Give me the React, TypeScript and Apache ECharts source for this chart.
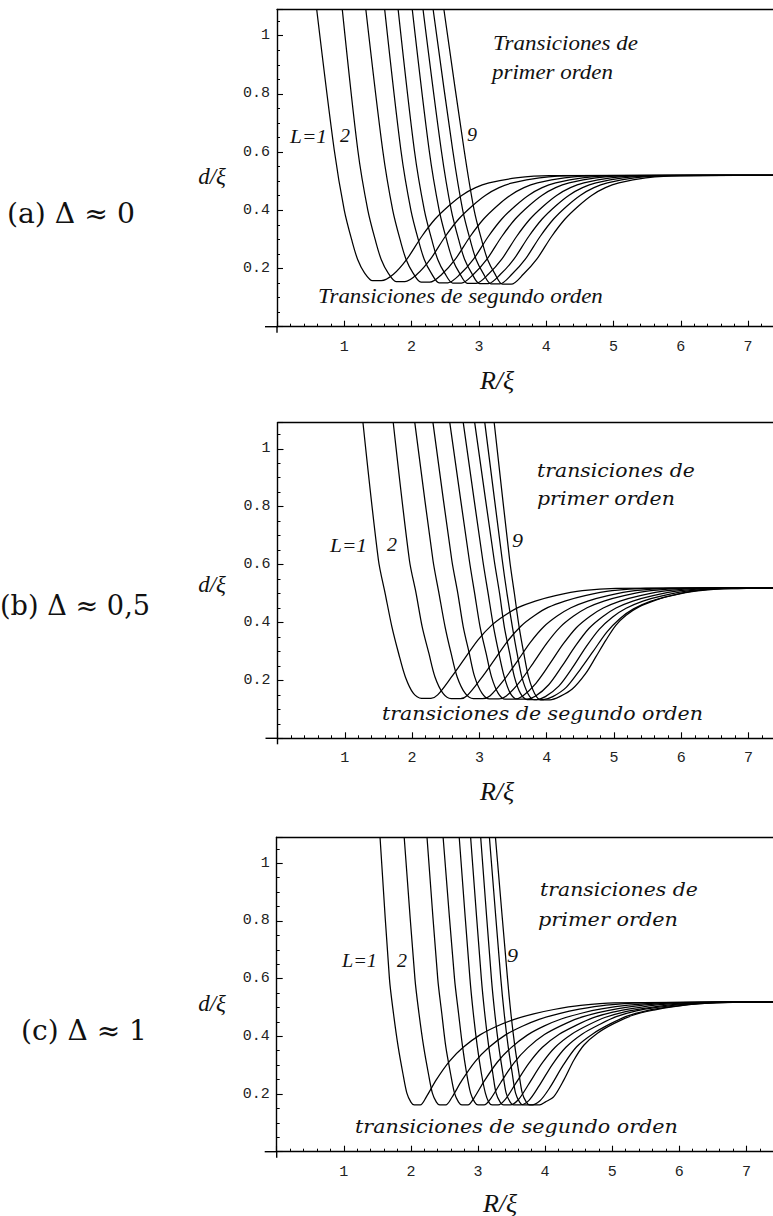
import React, { useEffect, useRef } from "react";
import * as echarts from "echarts";

// ---------- tick labels ----------
const xTickLabels = ["1", "2", "3", "4", "5", "6", "7"];
const yTickLabels = ["0.2", "0.4", "0.6", "0.8", "1"];

// ---------- panel (a)  Δ ≈ 0 : d/ξ versus R/ξ, L = 1..9 ----------
const a1 = [[0.59,1.09],[0.85,0.608],[1.0,0.4],[1.12,0.29],[1.2,0.23],[1.3,0.185],[1.42,0.158],[1.55,0.158],[1.73,0.18],[1.93,0.232],[2.15,0.31],[2.35,0.37],[2.55,0.415],[2.75,0.452],[2.95,0.478],[3.15,0.494],[3.55,0.511],[4.05,0.519],[8,0.52]];
const a2 = [[0.97,1.09],[1.2,0.608],[1.35,0.4],[1.47,0.29],[1.55,0.23],[1.65,0.185],[1.77,0.155],[1.9,0.155],[2.08,0.18],[2.28,0.232],[2.5,0.31],[2.7,0.37],[2.9,0.415],[3.1,0.452],[3.3,0.478],[3.5,0.494],[3.9,0.511],[4.4,0.519],[8,0.52]];
const a3 = [[1.32,1.09],[1.57,0.608],[1.72,0.4],[1.84,0.29],[1.92,0.23],[2.02,0.185],[2.14,0.153],[2.27,0.153],[2.45,0.18],[2.65,0.232],[2.87,0.31],[3.07,0.37],[3.27,0.415],[3.47,0.452],[3.67,0.478],[3.87,0.494],[4.27,0.511],[4.77,0.519],[8,0.52]];
const a4 = [[1.6,1.09],[1.84,0.608],[1.99,0.4],[2.11,0.29],[2.19,0.23],[2.29,0.185],[2.41,0.151],[2.54,0.151],[2.72,0.18],[2.92,0.232],[3.14,0.31],[3.34,0.37],[3.54,0.415],[3.74,0.452],[3.94,0.478],[4.14,0.494],[4.54,0.511],[5.04,0.519],[8,0.52]];
const a5 = [[1.8,1.09],[2.04,0.608],[2.19,0.4],[2.31,0.29],[2.39,0.23],[2.49,0.185],[2.61,0.15],[2.74,0.15],[2.92,0.18],[3.12,0.232],[3.34,0.31],[3.54,0.37],[3.74,0.415],[3.94,0.452],[4.14,0.478],[4.34,0.494],[4.74,0.511],[5.24,0.519],[8,0.52]];
const a6 = [[2.01,1.09],[2.26,0.608],[2.41,0.4],[2.53,0.29],[2.61,0.23],[2.71,0.185],[2.83,0.149],[2.96,0.149],[3.14,0.18],[3.34,0.232],[3.56,0.31],[3.76,0.37],[3.96,0.415],[4.16,0.452],[4.36,0.478],[4.56,0.494],[4.96,0.511],[5.46,0.519],[8,0.52]];
const a7 = [[2.17,1.09],[2.44,0.608],[2.59,0.4],[2.71,0.29],[2.79,0.23],[2.89,0.185],[3.01,0.148],[3.14,0.148],[3.32,0.18],[3.52,0.232],[3.74,0.31],[3.94,0.37],[4.14,0.415],[4.34,0.452],[4.54,0.478],[4.74,0.494],[5.14,0.511],[5.64,0.519],[8,0.52]];
const a8 = [[2.32,1.09],[2.61,0.608],[2.76,0.4],[2.88,0.29],[2.96,0.23],[3.06,0.185],[3.18,0.147],[3.31,0.147],[3.49,0.18],[3.69,0.232],[3.91,0.31],[4.11,0.37],[4.31,0.415],[4.51,0.452],[4.71,0.478],[4.91,0.494],[5.31,0.511],[5.81,0.519],[8,0.52]];
const a9 = [[2.48,1.09],[2.78,0.608],[2.93,0.4],[3.05,0.29],[3.13,0.23],[3.23,0.185],[3.35,0.146],[3.48,0.146],[3.66,0.18],[3.86,0.232],[4.08,0.31],[4.28,0.37],[4.48,0.415],[4.68,0.452],[4.88,0.478],[5.08,0.494],[5.48,0.511],[5.98,0.519],[8,0.52]];

// ---------- panel (b)  Δ ≈ 0,5 ----------
const b1 = [[1.27,1.09],[1.5,0.615],[1.6,0.5],[1.7,0.385],[1.8,0.293],[1.9,0.212],[2.02,0.155],[2.14,0.138],[2.28,0.138],[2.38,0.15],[2.58,0.21],[2.78,0.275],[2.98,0.34],[3.18,0.39],[3.38,0.425],[3.58,0.452],[3.83,0.474],[4.13,0.493],[4.53,0.51],[5.03,0.518],[8,0.52]];
const b2 = [[1.72,1.09],[1.96,0.615],[2.06,0.5],[2.15,0.385],[2.25,0.293],[2.34,0.212],[2.46,0.155],[2.58,0.137],[2.72,0.137],[2.82,0.148],[3.02,0.205],[3.22,0.27],[3.42,0.336],[3.62,0.388],[3.82,0.424],[4.02,0.452],[4.27,0.474],[4.57,0.493],[4.97,0.51],[5.47,0.518],[8,0.52]];
const b3 = [[2.04,1.09],[2.31,0.615],[2.4,0.5],[2.49,0.385],[2.58,0.293],[2.67,0.212],[2.79,0.155],[2.91,0.137],[3.05,0.137],[3.16,0.147],[3.36,0.2],[3.56,0.265],[3.76,0.332],[3.96,0.386],[4.16,0.423],[4.36,0.451],[4.61,0.474],[4.91,0.493],[5.31,0.51],[5.81,0.518],[8,0.52]];
const b4 = [[2.31,1.09],[2.59,0.615],[2.68,0.5],[2.76,0.385],[2.85,0.293],[2.93,0.212],[3.04,0.155],[3.15,0.136],[3.29,0.136],[3.4,0.146],[3.6,0.195],[3.8,0.26],[4.0,0.328],[4.2,0.384],[4.4,0.422],[4.6,0.451],[4.85,0.474],[5.15,0.493],[5.55,0.51],[6.05,0.518],[8,0.52]];
const b5 = [[2.56,1.09],[2.85,0.615],[2.93,0.5],[3.01,0.385],[3.1,0.293],[3.18,0.212],[3.28,0.155],[3.38,0.135],[3.52,0.135],[3.64,0.145],[3.84,0.19],[4.04,0.255],[4.24,0.324],[4.44,0.382],[4.64,0.421],[4.84,0.45],[5.09,0.474],[5.39,0.493],[5.79,0.51],[6.29,0.518],[8,0.52]];
const b6 = [[2.76,1.09],[3.05,0.615],[3.13,0.5],[3.21,0.385],[3.29,0.293],[3.37,0.212],[3.46,0.155],[3.56,0.135],[3.7,0.135],[3.83,0.145],[4.03,0.185],[4.23,0.25],[4.43,0.32],[4.63,0.38],[4.83,0.42],[5.03,0.45],[5.28,0.474],[5.58,0.493],[5.98,0.51],[6.48,0.518],[8,0.52]];
const b7 = [[2.93,1.09],[3.22,0.615],[3.3,0.5],[3.37,0.385],[3.45,0.293],[3.52,0.212],[3.61,0.155],[3.71,0.134],[3.85,0.134],[3.98,0.144],[4.18,0.18],[4.38,0.243],[4.58,0.314],[4.78,0.376],[4.98,0.419],[5.18,0.449],[5.43,0.474],[5.73,0.493],[6.13,0.51],[6.63,0.518],[8,0.52]];
const b8 = [[3.08,1.09],[3.34,0.615],[3.41,0.5],[3.49,0.385],[3.56,0.293],[3.63,0.212],[3.72,0.155],[3.81,0.134],[3.95,0.134],[4.09,0.144],[4.29,0.176],[4.49,0.235],[4.69,0.3],[4.89,0.366],[5.09,0.414],[5.29,0.447],[5.54,0.473],[5.84,0.492],[6.24,0.509],[6.74,0.517],[8,0.52]];
const b9 = [[3.22,1.09],[3.45,0.615],[3.52,0.5],[3.59,0.385],[3.66,0.293],[3.73,0.212],[3.82,0.155],[3.91,0.133],[4.05,0.133],[4.2,0.145],[4.38,0.17],[4.58,0.224],[4.73,0.281],[4.88,0.339],[5.03,0.391],[5.18,0.425],[5.37,0.454],[5.62,0.477],[5.87,0.494],[6.1,0.506],[6.5,0.516],[8,0.52]];

// ---------- panel (c)  Δ ≈ 1 ----------
const c1 = [[1.54,1.09],[1.68,0.6],[1.74,0.48],[1.81,0.364],[1.88,0.272],[1.94,0.203],[2.0,0.172],[2.05,0.162],[2.14,0.162],[2.23,0.19],[2.38,0.25],[2.58,0.315],[2.78,0.362],[3.03,0.405],[3.28,0.435],[3.53,0.458],[3.83,0.478],[4.13,0.493],[4.53,0.507],[5.03,0.516],[8,0.52]];
const c2 = [[1.9,1.09],[2.06,0.6],[2.12,0.48],[2.19,0.364],[2.26,0.272],[2.32,0.203],[2.38,0.172],[2.43,0.162],[2.52,0.162],[2.61,0.188],[2.76,0.247],[2.96,0.313],[3.16,0.361],[3.41,0.405],[3.66,0.435],[3.91,0.459],[4.21,0.479],[4.51,0.494],[4.91,0.508],[5.41,0.516],[8,0.52]];
const c3 = [[2.24,1.09],[2.4,0.6],[2.46,0.48],[2.52,0.364],[2.59,0.272],[2.65,0.203],[2.71,0.172],[2.76,0.162],[2.85,0.162],[2.94,0.186],[3.09,0.244],[3.29,0.311],[3.49,0.36],[3.74,0.405],[3.99,0.436],[4.24,0.46],[4.54,0.48],[4.84,0.495],[5.24,0.508],[5.74,0.516],[8,0.52]];
const c4 = [[2.48,1.09],[2.65,0.6],[2.71,0.48],[2.77,0.364],[2.83,0.272],[2.89,0.203],[2.95,0.172],[3.0,0.162],[3.09,0.162],[3.19,0.184],[3.34,0.24],[3.54,0.309],[3.74,0.36],[3.99,0.406],[4.24,0.437],[4.49,0.462],[4.79,0.482],[5.09,0.496],[5.49,0.509],[5.99,0.517],[8,0.52]];
const c5 = [[2.72,1.09],[2.88,0.6],[2.93,0.48],[2.99,0.364],[3.05,0.272],[3.11,0.203],[3.16,0.172],[3.21,0.162],[3.3,0.162],[3.41,0.182],[3.56,0.236],[3.76,0.307],[3.96,0.362],[4.21,0.407],[4.46,0.438],[4.71,0.464],[5.01,0.484],[5.31,0.497],[5.71,0.51],[6.21,0.517],[8,0.52]];
const c6 = [[2.89,1.09],[3.05,0.6],[3.1,0.48],[3.16,0.364],[3.22,0.272],[3.27,0.203],[3.33,0.172],[3.38,0.162],[3.48,0.162],[3.6,0.18],[3.75,0.232],[3.95,0.305],[4.15,0.362],[4.4,0.408],[4.65,0.44],[4.9,0.466],[5.2,0.486],[5.5,0.498],[5.9,0.51],[6.4,0.517],[8,0.52]];
const c7 = [[3.04,1.09],[3.2,0.6],[3.25,0.48],[3.31,0.364],[3.37,0.272],[3.42,0.203],[3.48,0.172],[3.53,0.162],[3.63,0.162],[3.76,0.178],[3.91,0.228],[4.11,0.303],[4.31,0.362],[4.56,0.409],[4.81,0.441],[5.06,0.468],[5.36,0.488],[5.66,0.5],[6.06,0.511],[6.56,0.518],[8,0.52]];
const c8 = [[3.17,1.09],[3.34,0.6],[3.39,0.48],[3.45,0.364],[3.51,0.272],[3.56,0.203],[3.62,0.172],[3.67,0.162],[3.78,0.162],[3.92,0.176],[4.07,0.222],[4.27,0.3],[4.47,0.364],[4.72,0.41],[4.97,0.443],[5.22,0.47],[5.52,0.489],[5.82,0.501],[6.22,0.512],[6.72,0.518],[8,0.52]];
const c9 = [[3.26,1.09],[3.44,0.6],[3.49,0.48],[3.55,0.364],[3.61,0.272],[3.66,0.203],[3.72,0.172],[3.77,0.162],[3.92,0.162],[4.0,0.172],[4.13,0.191],[4.28,0.249],[4.43,0.318],[4.58,0.37],[4.78,0.411],[5.03,0.445],[5.32,0.474],[5.62,0.491],[5.92,0.503],[6.3,0.513],[6.8,0.518],[8,0.52]];

const curvesA = [a1, a2, a3, a4, a5, a6, a7, a8, a9];
const curvesB = [b1, b2, b3, b4, b5, b6, b7, b8, b9];
const curvesC = [c1, c2, c3, c4, c5, c6, c7, c8, c9];
const curveNames = ["L=1", "L=2", "L=3", "L=4", "L=5", "L=6", "L=7", "L=8", "L=9"];

const X_MAX = 8;
const Y_MAX = 1.09;

// layout of the three panels (pixels); the frame runs past the right edge of the page
const CHART_W = 840;
const layout = [
  { top: 9.5, axisY: 326.7, x0: 277, unit: 67.3 },
  { top: 422.7, axisY: 738.3, x0: 277.5, unit: 67.3 },
  { top: 837.3, axisY: 1151.7, x0: 276.7, unit: 67.1 },
];

const INK = "#111";
const tickFont = "Liberation Mono";

function measure(text: string, font: string): number {
  const ctx = document.createElement("canvas").getContext("2d") as CanvasRenderingContext2D;
  ctx.font = font;
  return ctx.measureText(text).width;
}

function fitText(text: string, left: number, cy: number, width: number, family: string, size: number, italic: boolean) {
  const style = italic ? "italic" : "normal";
  const w = measure(text, `${style} ${size}px "${family}"`) || width;
  return {
    type: "text",
    x: left,
    y: cy,
    scaleX: width / w,
    silent: true,
    style: {
      text,
      fontSize: size,
      fontFamily: family,
      fontStyle: style,
      fill: INK,
      textAlign: "left",
      verticalAlign: "middle",
    },
  };
}

function centerText(text: string, cx: number, cy: number, family: string, size: number, italic: boolean) {
  return {
    type: "text",
    x: cx,
    y: cy,
    silent: true,
    style: {
      text,
      fontSize: size,
      fontFamily: family,
      fontStyle: italic ? "italic" : "normal",
      fill: INK,
      textAlign: "center",
      verticalAlign: "middle",
    },
  };
}

const xLabelFmt = (v: number) => {
  const i = Math.round(v);
  return Math.abs(v - i) < 1e-6 && i >= 1 && i <= 7 ? xTickLabels[i - 1] : "";
};
const yLabelFmt = (v: number) => {
  const i = Math.round(v * 5);
  return Math.abs(v * 5 - i) < 1e-6 && i >= 1 && i <= 5 ? yTickLabels[i - 1] : "";
};

export default function App() {
  const ref = useRef<HTMLDivElement>(null);
  useEffect(() => {
    if (!ref.current) return;
    const chart = echarts.init(ref.current, undefined, { renderer: "svg" });
    const grids: any[] = [];
    const xAxes: any[] = [];
    const yAxes: any[] = [];
    const series: any[] = [];
    const lineStyle = { color: "#000", width: 1.4 };
    [curvesA, curvesB, curvesC].forEach((curves, k) => {
      const L = layout[k];
      grids.push({ left: L.x0, top: L.top, width: X_MAX * L.unit, height: L.axisY - L.top, containLabel: false });
      xAxes.push({
        gridIndex: k, type: "value", min: 0, max: X_MAX, interval: 1, position: "bottom",
        axisLine: { show: true, onZero: false, lineStyle },
        axisTick: { show: true, inside: true, length: 6, lineStyle: { color: "#000", width: 1.1 } },
        minorTick: { show: true, splitNumber: 5, length: 3, lineStyle: { color: "#000", width: 1 } },
        splitLine: { show: false }, minorSplitLine: { show: false },
        axisLabel: { formatter: xLabelFmt, margin: 13, fontFamily: tickFont, fontSize: 15, color: "#222" },
      });
      xAxes.push({
        gridIndex: k, type: "value", min: 0, max: X_MAX, position: "top",
        axisLine: { show: true, onZero: false, lineStyle },
        axisTick: { show: false }, axisLabel: { show: false }, splitLine: { show: false },
      });
      yAxes.push({
        gridIndex: k, type: "value", min: 0, max: Y_MAX, interval: 0.2, position: "left",
        axisLine: { show: true, onZero: false, lineStyle },
        axisTick: { show: true, inside: true, length: 6, lineStyle: { color: "#000", width: 1.1 } },
        splitLine: { show: false },
        axisLabel: { formatter: yLabelFmt, margin: 7, fontFamily: tickFont, fontSize: 15, color: "#222" },
      });
      yAxes.push({
        gridIndex: k, type: "value", min: 0, max: Y_MAX, interval: 0.05, position: "left",
        axisLine: { show: false, onZero: false },
        axisTick: { show: true, inside: true, length: 3, lineStyle: { color: "#000", width: 1 } },
        axisLabel: { show: false }, splitLine: { show: false },
      });
      curves.forEach((c, i) => {
        series.push({
          type: "line", name: curveNames[i], xAxisIndex: 2 * k, yAxisIndex: 2 * k,
          data: c, showSymbol: false, symbol: "none", smooth: 0.3, clip: true, silent: true,
          lineStyle: { color: "#000", width: 1.25 },
        });
      });
    });

    const SER = "Liberation Serif";
    const WIDE = "DejaVu Serif";
    const graphic: any[] = [
      // panel labels
      fitText("(a) Δ ≈ 0", 7, 214, 128, WIDE, 27, false),
      fitText("(b) Δ ≈ 0,5", 0, 606, 150, WIDE, 27, false),
      fitText("(c) Δ ≈ 1", 21, 1030, 126, WIDE, 27, false),
      // y axis names
      centerText("d/ξ", 212, 176, SER, 23, true),
      centerText("d/ξ", 212, 584, SER, 23, true),
      centerText("d/ξ", 212, 1003, SER, 23, true),
      // x axis names
      centerText("R/ξ", 497, 380, SER, 26, true),
      centerText("R/ξ", 497, 791, SER, 26, true),
      centerText("R/ξ", 500, 1203, SER, 26, true),
      // panel (a) annotations
      fitText("Transiciones de", 493, 43, 145, SER, 21, true),
      fitText("primer orden", 492, 72, 121, SER, 21, true),
      fitText("Transiciones de segundo orden", 318, 296, 285, SER, 21, true),
      fitText("L=1", 290, 136, 37, SER, 19, true),
      fitText("2", 340, 136, 10, SER, 19, true),
      fitText("9", 467, 135, 10, SER, 19, true),
      // panel (b)
      fitText("transiciones de", 537, 471, 158, WIDE, 19, true),
      fitText("primer orden", 537, 499, 138, WIDE, 19, true),
      fitText("transiciones de segundo orden", 382, 714, 321, WIDE, 19, true),
      fitText("L=1", 330, 545, 37, SER, 19, true),
      fitText("2", 387, 545, 10, SER, 19, true),
      fitText("9", 512, 541, 11, SER, 19, true),
      // panel (c)
      fitText("transiciones de", 540, 890, 158, WIDE, 19, true),
      fitText("primer orden", 538, 920, 140, WIDE, 19, true),
      fitText("transiciones de segundo orden", 355, 1127, 323, WIDE, 19, true),
      fitText("L=1", 342, 961, 35, SER, 19, true),
      fitText("2", 397, 961, 10, SER, 19, true),
      fitText("9", 507, 956, 11, SER, 19, true),
    ];

    chart.setOption({
      animation: false,
      backgroundColor: "#fff",
      grid: grids,
      xAxis: xAxes,
      yAxis: yAxes,
      series,
    });

    // short axis overhangs past the origin, positioned through the grid's own scale
    const extra: any[] = [];
    for (let k = 0; k < 3; k++) {
      const p = chart.convertToPixel({ xAxisIndex: 2 * k, yAxisIndex: 2 * k } as any, [0, 0]) as number[];
      if (p) {
        extra.push({ type: "line", silent: true, shape: { x1: p[0] - 12, y1: p[1], x2: p[0], y2: p[1] }, style: { stroke: "#000", lineWidth: 1.4 } });
        extra.push({ type: "line", silent: true, shape: { x1: p[0], y1: p[1], x2: p[0], y2: p[1] + 6 }, style: { stroke: "#000", lineWidth: 1.4 } });
      }
    }
    chart.setOption({ graphic: [...graphic, ...extra] });

    return () => chart.dispose();
  }, []);
  return (
    <div style={{ position: "absolute", left: 0, top: 0, width: 773, height: 1216, overflow: "hidden", background: "#fff" }}>
      <div ref={ref} style={{ width: CHART_W, height: 1216 }} />
    </div>
  );
}
